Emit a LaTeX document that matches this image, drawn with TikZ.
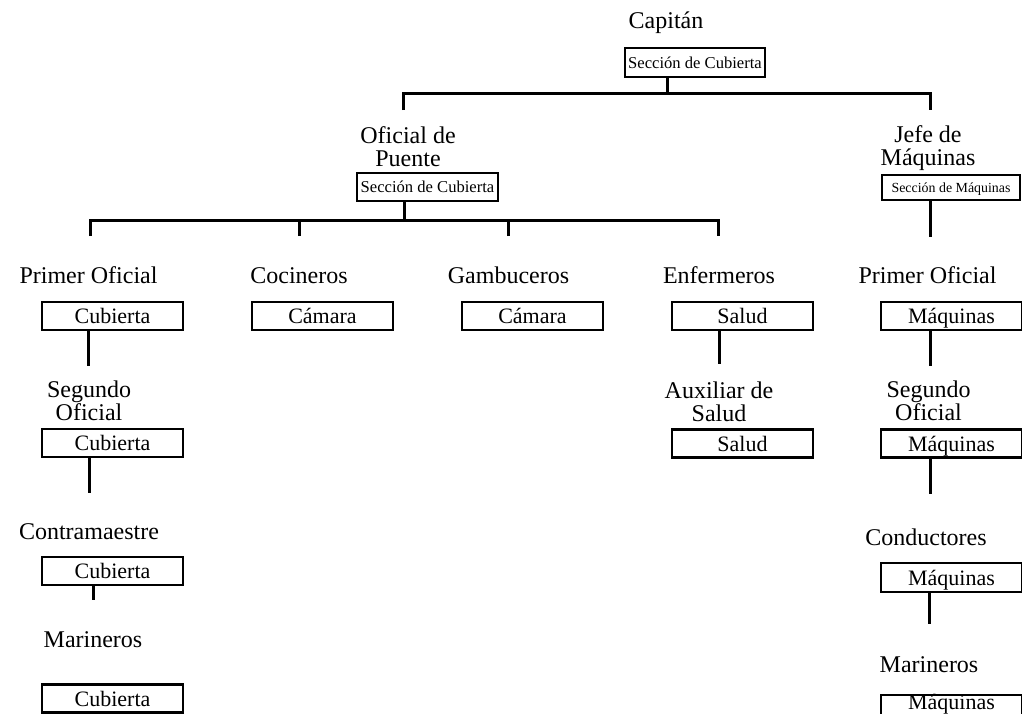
\documentclass[tikz,border=0pt]{standalone}
\usepackage{fontspec}
\setmainfont{Liberation Serif}

\begin{document}
\begin{tikzpicture}[x=1pt, y=-1pt,
    rank/.style={inner sep=0pt, align=center, font=\fontsize{24}{23}\selectfont},
    dept/.style={draw, line width=2.6pt, inner sep=0pt, minimum width=141pt, minimum height=28pt, text height=15pt, text depth=0pt, font=\fontsize{22}{24}\selectfont},
    link/.style={line width=3pt}]
    \useasboundingbox (0,0) rectangle (1022,713);
    \node[rank, anchor=base] (cap) at (666,28) {Capitán};
    \node[dept, minimum width=140pt, minimum height=29pt, text height=11pt, font=\fontsize{16.6}{18}\selectfont] (capbox) at (695,62.5) {Sección de Cubierta};
    \node[rank, anchor=north] (ofi) at (408,126.6) {Oficial de\\Puente};
    \node[dept, text height=11pt, font=\fontsize{16.6}{18}\selectfont] (ofibox) at (427.5,187) {Sección de Cubierta};
    \node[rank, anchor=north] (jefe) at (928,125.6) {Jefe de\\Máquinas};
    \node[dept, minimum width=138pt, minimum height=25pt, text height=9.5pt, font=\fontsize{13.9}{16}\selectfont] (jefebox) at (951,187.5) {Sección de Máquinas};
    \node[rank, anchor=base] (po1) at (88.5,283) {Primer Oficial};
    \node[rank, anchor=base] (coc) at (299,283) {Cocineros};
    \node[rank, anchor=base] (gam) at (508.5,283) {Gambuceros};
    \node[rank, anchor=base] (enf) at (719,283) {Enfermeros};
    \node[rank, anchor=base] (po2) at (927.5,283) {Primer Oficial};
    \node[dept] (po1box) at (112.5,316) {Cubierta};
    \node[dept] (cocbox) at (322.5,316) {Cámara};
    \node[dept] (gambox) at (532.5,316) {Cámara};
    \node[dept] (enfbox) at (742.5,316) {Salud};
    \node[dept] (po2box) at (951.5,316) {Máquinas};
    \node[rank, anchor=north] (so1) at (89,380.6) {Segundo\\Oficial};
    \node[rank, anchor=north] (aux) at (719,381.6) {Auxiliar de\\Salud};
    \node[rank, anchor=north] (so2) at (928.5,381) {Segundo\\Oficial};
    \node[dept] (so1box) at (112.5,443) {Cubierta};
    \node[dept] (auxbox) at (742.5,443.5) {Salud};
    \node[dept] (so2box) at (951.5,443.5) {Máquinas};
    \node[rank, anchor=base] (con) at (89,539) {Contramaestre};
    \node[rank, anchor=base] (cond) at (926,545) {Conductores};
    \node[dept] (conbox) at (112.5,571) {Cubierta};
    \node[dept, minimum height=29pt] (condbox) at (951.5,577.5) {Máquinas};
    \node[rank, anchor=base] (mar1) at (93,647) {Marineros};
    \node[rank, anchor=base] (mar2) at (929,672) {Marineros};
    \node[dept] (mar1box) at (112.5,698.5) {Cubierta};
    \node[dept, text height=0pt] (mar2box) at (951.5,709) {Máquinas};

    \coordinate (capjoin) at (667,93);
    \coordinate (ofidrop) at (403,110);
    \coordinate (jefedrop) at (930,110);
    \draw[link] (capjoin |- capbox.south) -- (capjoin);
    \draw[link] (ofidrop) |- (capjoin) -| (jefedrop);
    \coordinate (ofijoin) at (404,220);
    \foreach \n/\x in {po1/90, coc/299, gam/508, enf/718}
        \coordinate (\n drop) at (\x,236);
    \draw[link] (ofijoin |- ofibox.south) -- (ofijoin);
    \draw[link] (po1drop) |- (ofijoin) -| (enfdrop);
    \draw[link] (cocdrop) -- (cocdrop |- ofijoin);
    \draw[link] (gamdrop) -- (gamdrop |- ofijoin);
    \draw[link] (jefebox.south -| jefedrop) -- ++(0,36);
    \draw[link] (po1box.south -| po1) -- ++(0,35);
    \draw[link] (enfbox.south -| enf) -- ++(0,33);
    \draw[link] (po2box.south -| jefedrop) -- ++(0,35);
    \draw[link] (so1box.south -| so1) -- ++(0,35);
    \draw[link] (so2box.south -| jefedrop) -- ++(0,35);
    \draw[link] (conbox.south -| mar1) -- ++(0,14);
    \draw[link] (condbox.south -| mar2) -- ++(0,31);
\end{tikzpicture}
\end{document}
